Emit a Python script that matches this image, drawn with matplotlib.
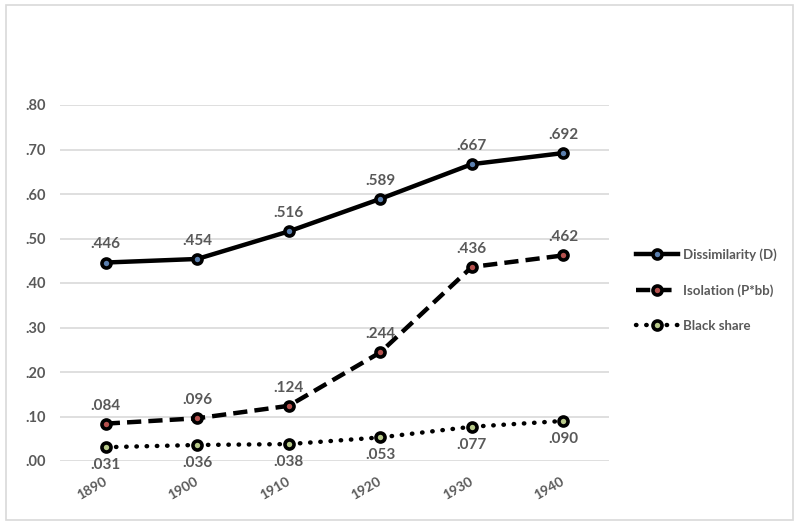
import matplotlib.pyplot as plt
from matplotlib.patches import Rectangle

# data
years = ["1890", "1900", "1910", "1920", "1930", "1940"]
dissimilarity = [0.446, 0.454, 0.516, 0.589, 0.667, 0.692]
isolation = [0.084, 0.096, 0.124, 0.244, 0.436, 0.462]
black_share = [0.031, 0.036, 0.038, 0.053, 0.077, 0.090]
y_ticks = [0.0, 0.1, 0.2, 0.3, 0.4, 0.5, 0.6, 0.7, 0.8]

plt.rcParams['font.family'] = ['Lato', 'DejaVu Sans']
txt_col = '#595959'

fig = plt.figure(figsize=(8, 5.27), dpi=100)
# outer chart border
fig.patches.append(Rectangle((6 / 800, 1 - 520 / 527), 787 / 800, 515 / 527,
                             transform=fig.transFigure, fill=False,
                             edgecolor='#d9d9d9', linewidth=1.2))

ax = fig.add_axes([60 / 800, 1 - 461 / 527, 549 / 800, 356 / 527])
x = list(range(len(years)))

series = [
    ("Dissimilarity (D)", dissimilarity, '-', '#5b7fae', 'above'),
    ("Isolation (P*bb)", isolation, (0, (3.2, 1.6)), '#b5514e', 'above'),
    ("Black share", black_share, (0, (0.1, 2.2)), '#b8c98a', 'below'),
]

for name, vals, ls, mfc, pos in series:
    ax.plot(x, vals, linestyle=ls, color='black', linewidth=3.2,
            dash_capstyle='round' if pos == 'below' else 'butt',
            marker='o', markersize=6.5, markerfacecolor=mfc,
            markeredgecolor='black', markeredgewidth=2.6, label=name, zorder=3)
    for xi, v in zip(x, vals):
        lab = f"{v:.3f}".lstrip('0')
        dy = 13 if pos == 'above' else -13
        ax.annotate(lab, (xi, v), xytext=(0, dy), textcoords='offset points',
                    ha='center', va='center', fontsize=11, color=txt_col,
                    fontweight='bold')

ax.set_xlim(-0.5, len(years) - 0.5)
ax.set_ylim(0, 0.8)
ax.set_yticks(y_ticks)
ax.set_yticklabels([f"{t:.2f}".lstrip('0') for t in y_ticks])
ax.set_xticks(x)
ax.set_xticklabels(years, rotation=30, ha='right', va='center',
                   rotation_mode='anchor')
ax.tick_params(axis='both', length=0, labelsize=10.5, labelcolor=txt_col)
ax.tick_params(axis='x', labelsize=10, pad=14)
ax.tick_params(axis='y', pad=10)
for lab in ax.get_xticklabels() + ax.get_yticklabels():
    lab.set_fontweight('bold')
ax.grid(axis='y', color='#d9d9d9', linewidth=1.2)
ax.set_axisbelow(True)
for s in ax.spines.values():
    s.set_visible(False)

leg = fig.legend(loc='center left', bbox_to_anchor=(624 / 800, 1 - 290 / 527),
                 frameon=False, fontsize=9.5, handlelength=3.2,
                 labelspacing=1.75, handletextpad=0.4)
for t in leg.get_texts():
    t.set_color(txt_col)
    t.set_fontweight('bold')

fig.savefig('out.png', dpi=100)
